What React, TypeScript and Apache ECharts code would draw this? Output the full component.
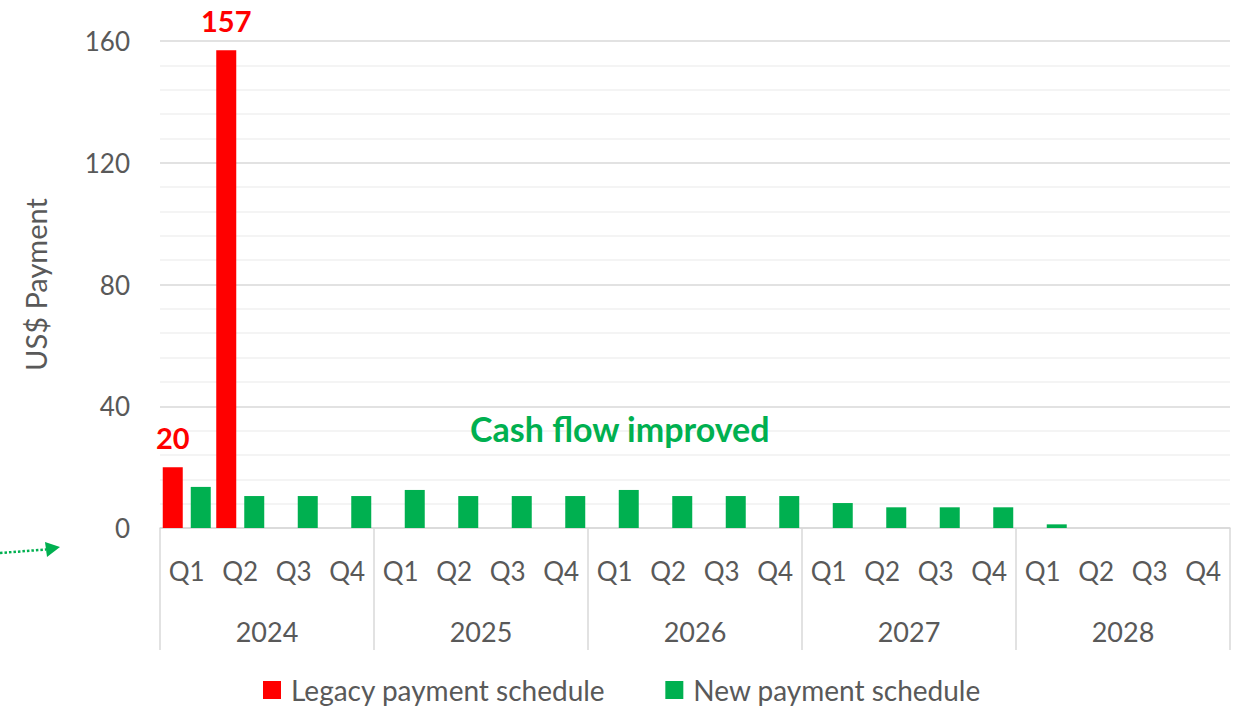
import React, { useEffect, useRef } from "react";
import * as echarts from "echarts";

const quarters = ["Q1","Q2","Q3","Q4","Q1","Q2","Q3","Q4","Q1","Q2","Q3","Q4","Q1","Q2","Q3","Q4","Q1","Q2","Q3","Q4"];
const years = ["2024", "2025", "2026", "2027", "2028"];
const legacy: (number | null)[] = [20, 157, null, null, null, null, null, null, null, null, null, null, null, null, null, null, null, null, null, null];
const newSchedule: (number | null)[] = [13.5, 10.5, 10.5, 10.5, 12.5, 10.5, 10.5, 10.5, 12.5, 10.5, 10.5, 10.5, 8.2, 6.8, 6.8, 6.8, 1.2, null, null, null];
const yTicks = { min: 0, max: 160, interval: 40 };

const FONT = "Lato";
const GREY = "#595959";
const RED = "#ff0000";
const GREEN = "#00b050";

export default function App() {
  const ref = useRef<HTMLDivElement>(null);
  useEffect(() => {
    if (!ref.current) return;
    const chart = echarts.init(ref.current, null, { renderer: "svg" });
    chart.setOption({
      animation: false,
      textStyle: { fontFamily: FONT },
      grid: { left: 160, right: 10, top: 41, bottom: 179, containLabel: false },
      legend: {
        left: 263,
        top: 676,
        padding: 0,
        itemWidth: 18,
        itemHeight: 18,
        itemGap: 60,
        icon: "rect",
        textStyle: { fontFamily: FONT, fontSize: 28, lineHeight: 28, color: GREY, padding: [0, 0, 0, 5] },
        data: ["Legacy payment schedule", "New payment schedule"],
      },
      xAxis: [
        {
          type: "category",
          data: quarters,
          axisLine: { show: true, lineStyle: { color: "#d9d9d9", width: 1.5 } },
          axisTick: { show: false },
          axisLabel: { fontFamily: FONT, fontSize: 26, color: GREY, margin: 30, interval: 0 },
        },
        {
          type: "category",
          data: years,
          position: "bottom",
          axisLine: { show: false },
          axisTick: { show: true, length: 122, lineStyle: { color: "#d9d9d9", width: 1.5 } },
          axisLabel: { fontFamily: FONT, fontSize: 27, color: GREY, margin: 90 },
        },
      ],
      yAxis: {
        type: "value",
        min: yTicks.min,
        max: yTicks.max,
        interval: yTicks.interval,
        name: "US$ Payment",
        nameLocation: "middle",
        nameGap: 110,
        nameTextStyle: { fontFamily: FONT, fontSize: 29, color: GREY },
        axisLine: { show: false },
        axisTick: { show: false },
        axisLabel: { fontFamily: FONT, fontSize: 26, color: GREY, margin: 30 },
        splitLine: { show: true, lineStyle: { color: "#d9d9d9", width: 1.5 } },
        minorTick: { show: false, splitNumber: 5 },
        minorSplitLine: { show: true, lineStyle: { color: "#f0f0f0", width: 1.5 } },
      },
      series: [
        {
          name: "Legacy payment schedule",
          type: "bar",
          data: legacy,
          barWidth: 20,
          barGap: "40%",
          itemStyle: { color: RED },
          label: {
            show: true,
            position: "top",
            distance: 15,
            fontFamily: FONT,
            fontWeight: "bold",
            fontSize: 29,
            color: RED,
          },
        },
        {
          name: "New payment schedule",
          type: "bar",
          data: newSchedule,
          barWidth: 20,
          itemStyle: { color: GREEN },
        },
      ],
      graphic: [
        {
          type: "text",
          left: 470,
          top: 411,
          z: 100,
          style: { text: "Cash flow improved", fill: GREEN, font: `bold 34px ${FONT}` },
        },
        {
          type: "line",
          z: 100,
          shape: { x1: 0, y1: 553, x2: 46, y2: 549.5 },
          style: { stroke: GREEN, lineWidth: 2.5, lineDash: [2.5, 2] },
        },
        {
          type: "polygon",
          z: 100,
          shape: { points: [[60, 547], [45, 542], [47, 557]] },
          style: { fill: GREEN },
        },
      ],
    });
    return () => chart.dispose();
  }, []);
  return <div ref={ref} style={{ width: 1240, height: 707, position: "absolute", left: 0, top: 0 }} />;
}
